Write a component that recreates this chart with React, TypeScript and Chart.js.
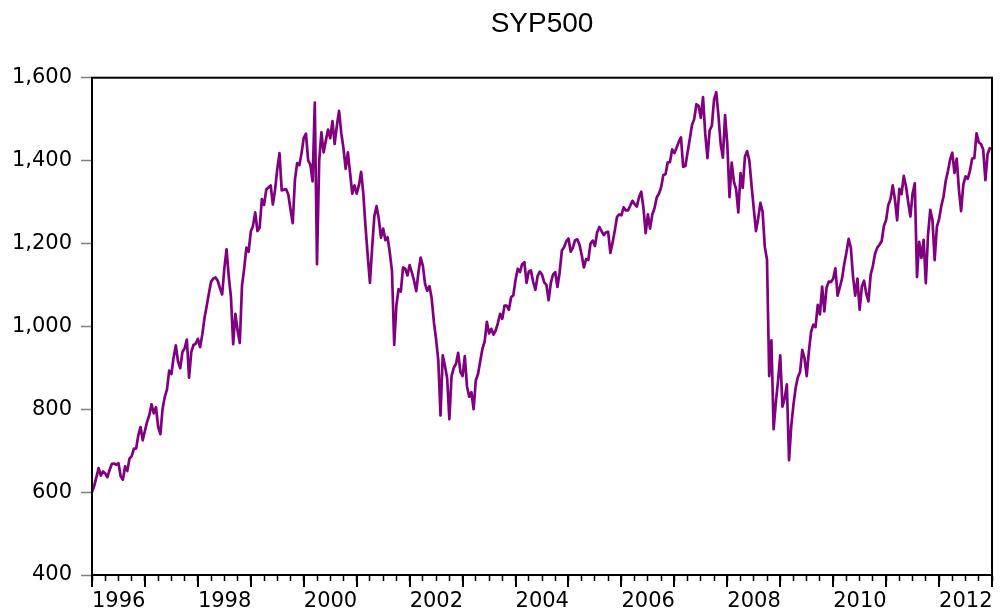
import React, { useEffect, useRef } from "react";
import { Chart, registerables } from "chart.js";

Chart.register(...registerables);

const TITLE = "SYP500";
const START_YEAR = 1996;
const POINTS_PER_YEAR = 24; // semi-monthly readings
const X_MIN = 1996;
const X_MAX = 2013;
const X_LABEL_YEARS = [1996, 1998, 2000, 2002, 2004, 2006, 2008, 2010, 2012];
const Y_TICKS = [400, 600, 800, 1000, 1200, 1400, 1600];
const LINE_COLOR = "#800080";

const y1996 = [600, 615, 636, 658, 640, 650, 645, 636, 654, 668, 669, 666, 670, 638, 630, 662, 651, 681, 687, 705, 705, 737, 757, 725];
const y1997 = [748, 770, 786, 812, 790, 805, 757, 740, 801, 830, 848, 893, 885, 925, 954, 915, 899, 938, 947, 968, 876, 938, 955, 958];
const y1998 = [970, 950, 980, 1020, 1049, 1080, 1108, 1115, 1118, 1110, 1092, 1077, 1140, 1186, 1120, 1070, 957, 1030, 990, 960, 1098, 1140, 1190, 1180];
const y1999 = [1229, 1243, 1275, 1230, 1238, 1307, 1293, 1330, 1335, 1340, 1294, 1330, 1380, 1418, 1328, 1330, 1331, 1318, 1282, 1249, 1354, 1394, 1389, 1418];
const y2000 = [1455, 1465, 1400, 1390, 1350, 1540, 1150, 1400, 1468, 1420, 1448, 1475, 1454, 1495, 1440, 1484, 1520, 1466, 1430, 1380, 1420, 1370, 1320, 1340];
const y2001 = [1320, 1340, 1373, 1320, 1240, 1170, 1105, 1190, 1266, 1290, 1260, 1214, 1236, 1208, 1215, 1178, 1133, 955, 1051, 1090, 1084, 1142, 1139, 1123];
const y2002 = [1148, 1130, 1110, 1085, 1131, 1166, 1146, 1102, 1086, 1097, 1067, 1010, 968, 917, 785, 930, 905, 875, 776, 880, 900, 909, 936, 890];
const y2003 = [880, 928, 855, 830, 841, 800, 870, 885, 916, 946, 963, 1011, 983, 994, 980, 990, 1008, 1030, 1018, 1050, 1050, 1040, 1070, 1075];
const y2004 = [1112, 1139, 1131, 1150, 1155, 1105, 1132, 1135, 1107, 1088, 1121, 1132, 1125, 1106, 1100, 1063, 1105, 1125, 1131, 1095, 1130, 1183, 1191, 1205];
const y2005 = [1212, 1180, 1190, 1208, 1210, 1197, 1172, 1142, 1162, 1160, 1200, 1207, 1194, 1227, 1240, 1230, 1220, 1227, 1228, 1177, 1202, 1231, 1264, 1270];
const y2006 = [1268, 1287, 1280, 1280, 1291, 1303, 1295, 1289, 1312, 1325, 1285, 1225, 1270, 1236, 1270, 1285, 1311, 1320, 1335, 1365, 1367, 1396, 1396, 1427];
const y2007 = [1418, 1431, 1445, 1456, 1385, 1387, 1420, 1452, 1486, 1500, 1536, 1532, 1503, 1553, 1465, 1406, 1473, 1484, 1547, 1565, 1508, 1440, 1407, 1510];
const y2008 = [1440, 1312, 1395, 1349, 1331, 1275, 1370, 1334, 1409, 1423, 1400, 1340, 1284, 1230, 1260, 1298, 1277, 1192, 1161, 880, 966, 752, 816, 868];
const y2009 = [930, 806, 826, 860, 677, 760, 811, 852, 877, 890, 943, 923, 880, 940, 987, 1004, 998, 1052, 1029, 1096, 1036, 1093, 1108, 1107];
const y2010 = [1115, 1140, 1074, 1094, 1115, 1150, 1178, 1211, 1190, 1120, 1074, 1115, 1040, 1096, 1110, 1079, 1060, 1125, 1146, 1176, 1190, 1197, 1206, 1242];
const y2011 = [1257, 1293, 1307, 1340, 1306, 1256, 1332, 1319, 1363, 1338, 1300, 1265, 1320, 1345, 1119, 1204, 1165, 1209, 1104, 1220, 1281, 1257, 1160, 1240];
const y2012 = [1258, 1290, 1312, 1350, 1374, 1402, 1419, 1370, 1405, 1330, 1278, 1342, 1362, 1356, 1375, 1405, 1406, 1466, 1444, 1440, 1427, 1353, 1416, 1430];

const YEAR_SERIES = [y1996, y1997, y1998, y1999, y2000, y2001, y2002, y2003, y2004, y2005, y2006, y2007, y2008, y2009, y2010, y2011, y2012];

const QUARTER_TICKS: number[] = [];
for (let q = X_MIN * 4; q <= X_MAX * 4; q++) QUARTER_TICKS.push(q / 4);

const TICK_FONT = { family: "'DejaVu Sans', 'Liberation Sans', Arial, sans-serif", size: 21 };

const frameAndTicks = {
  id: "frameAndTicks",
  afterDraw(chart: any) {
    const { ctx, chartArea } = chart;
    const xs = chart.scales.x;
    ctx.save();
    ctx.strokeStyle = "#000";
    ctx.lineWidth = 2;
    // longer year ticks
    for (let yr = X_MIN; yr <= X_MAX; yr++) {
      const px = Math.round(xs.getPixelForValue(yr));
      ctx.beginPath();
      ctx.moveTo(px, chartArea.bottom);
      ctx.lineTo(px, chartArea.bottom + 12);
      ctx.stroke();
    }
    ctx.strokeRect(chartArea.left, chartArea.top, chartArea.right - chartArea.left, chartArea.bottom - chartArea.top);
    ctx.restore();
  },
};

export default function App() {
  const canvasRef = useRef<HTMLCanvasElement | null>(null);

  useEffect(() => {
    const canvas = canvasRef.current;
    if (!canvas) return;
    const points = YEAR_SERIES.flatMap((vals, k) =>
      vals.map((v, i) => ({ x: START_YEAR + k + i / POINTS_PER_YEAR, y: v }))
    );
    const chart = new Chart(canvas, {
      type: "line",
      data: {
        datasets: [
          {
            data: points,
            borderColor: LINE_COLOR,
            borderWidth: 2.7,
            pointRadius: 0,
            tension: 0,
            fill: false,
            borderJoinStyle: "round",
            borderCapStyle: "round",
          },
        ],
      },
      options: {
        animation: false,
        responsive: false,
        devicePixelRatio: 1,
        layout: { padding: { left: 0, right: 3, top: 0, bottom: 0 } },
        plugins: {
          legend: { display: false },
          tooltip: { enabled: false },
          title: {
            display: true,
            text: TITLE,
            fullSize: false,
            color: "#000",
            font: { family: "'Liberation Sans', Arial, sans-serif", size: 28, weight: "normal" },
            padding: { top: 7, bottom: 37.1 },
          },
        },
        scales: {
          x: {
            type: "linear",
            min: X_MIN,
            max: X_MAX,
            afterBuildTicks: (s: any) => {
              s.ticks = QUARTER_TICKS.map((v) => ({ value: v }));
            },
            afterFit: (s: any) => {
              s.height = 37;
            },
            ticks: {
              autoSkip: false,
              maxRotation: 0,
              minRotation: 0,
              align: "start",
              padding: 8,
              color: "#000",
              font: TICK_FONT,
              callback: (v: any) => {
                const n = Number(v);
                return Number.isInteger(n) && X_LABEL_YEARS.includes(n) ? String(n) : "";
              },
            },
            grid: { display: true, drawOnChartArea: false, drawTicks: true, tickLength: 6, tickColor: "#000", tickWidth: 1.5 },
            border: { display: true, color: "#000", width: 2 },
          },
          y: {
            type: "linear",
            min: 400,
            max: 1600,
            afterBuildTicks: (s: any) => {
              s.ticks = Y_TICKS.map((v) => ({ value: v }));
            },
            afterFit: (s: any) => {
              s.width = 92;
            },
            ticks: {
              padding: 9,
              color: "#000",
              font: TICK_FONT,
              callback: (v: any) => Number(v).toLocaleString("en-US"),
            },
            grid: { display: true, drawOnChartArea: false, drawTicks: true, tickLength: 11, tickColor: "#808080", tickWidth: 1.5 },
            border: { display: true, color: "#000", width: 2 },
          },
        },
      },
      plugins: [frameAndTicks],
    });
    return () => chart.destroy();
  }, []);

  return (
    <div style={{ position: "fixed", left: 0, top: 0, width: 1000, height: 612, background: "#fff" }}>
      <canvas ref={canvasRef} width={1000} height={612} style={{ display: "block" }} />
    </div>
  );
}
